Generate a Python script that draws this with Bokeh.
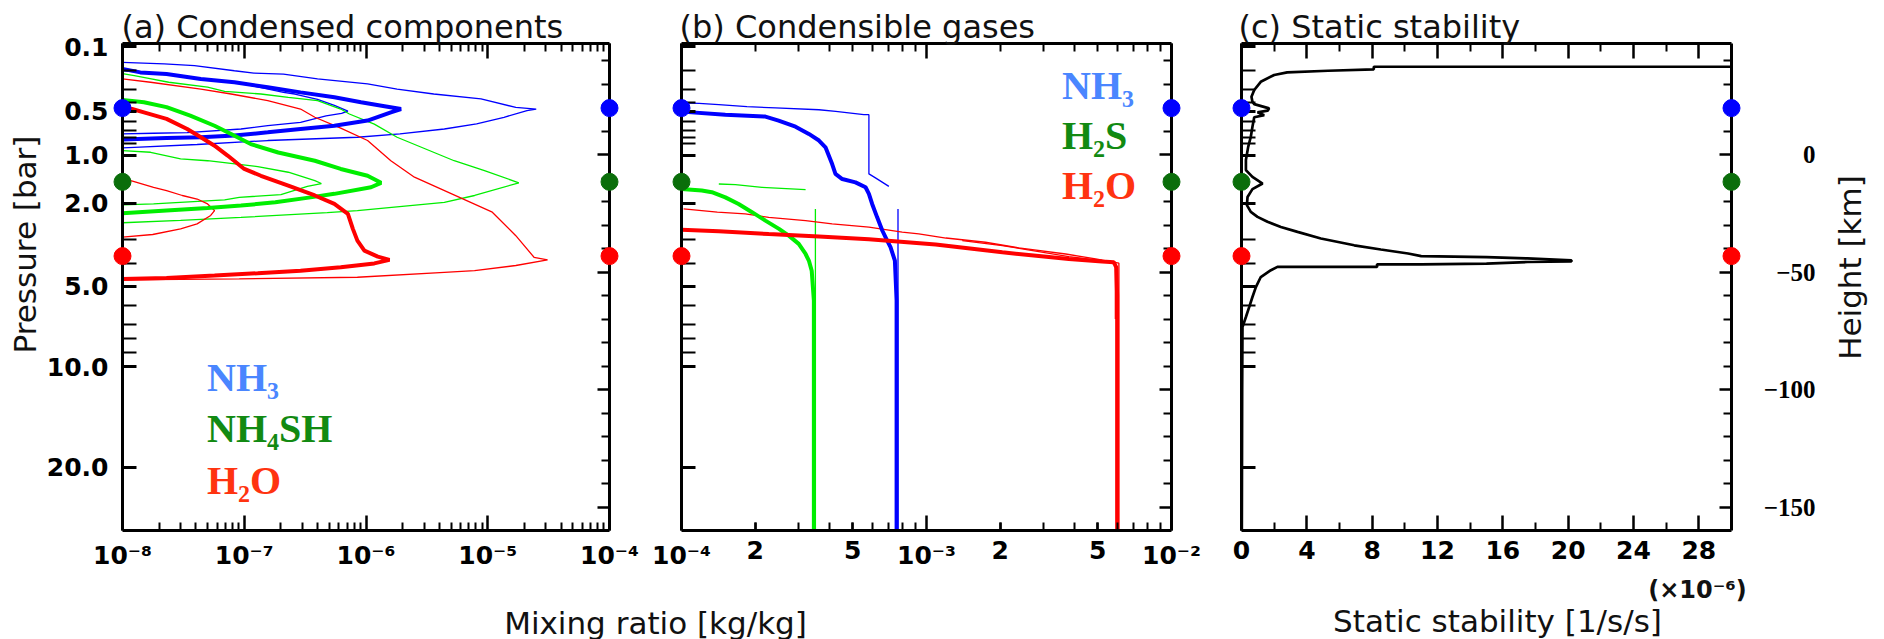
import numpy as np
from bokeh.plotting import figure
from bokeh.models import (Range1d, LogScale, LinearScale, LinearAxis, LogAxis,
                          FixedTicker, Label, LabelSet, Legend, LegendItem, ColumnDataSource)
from bokeh.embed import file_html
from bokeh.resources import INLINE

nan = float("nan")

# ------------------------------------------------------------------ data
# vertical coordinate: height [km]; pressure ticks placed at their heights
pressure_ticks = [0.1, 0.2, 0.3, 0.4, 0.5, 0.6, 0.7, 0.8, 0.9, 1.0,
                  2.0, 3.0, 4.0, 5.0, 6.0, 7.0, 8.0, 9.0, 10.0, 20.0]
pressure_tick_heights = [46.0, 35.6, 27.8, 22.3, 18.5, 14.3, 10.1, 7.5, 4.9, -0.3,
                         -20.8, -36.1, -46.4, -56.1, -64.4, -72.2, -78.1, -84.3, -90.2, -133.0]
pressure_labelled = [0.1, 0.5, 1.0, 2.0, 5.0, 10.0, 20.0]
pressure_labels = ["0.1", "0.5", "1.0", "2.0", "5.0", "10.0", "20.0"]

height_major = [0, -50, -100, -150]
height_major_labels = ["0", "\u221250", "\u2212100", "\u2212150"]
height_minor = [40, 30, 20, 10, -10, -20, -30, -40, -60, -70, -80, -90,
                -110, -120, -130, -140]

# cloud-base levels (dots): NH3, NH4SH, H2O
cloud_base_h = [19.8, -11.6, -43.2]
cloud_base_colors = ["#0000ff", "#0a6e0a", "#ff0000"]

# (a) condensed components [kg/kg]
nh3_mean_x = [1e-8, 1.4e-8, 2.3e-8, 4.4e-8, 8.3e-8, 1.56e-7, 2.9e-7, 5.5e-7, 9.1e-7, 1.42e-6,
              1.94e-6, 1.6e-6, 1.03e-6, 5.5e-7, 2.9e-7, 1.56e-7, 8.3e-8, 4.4e-8, 2.3e-8, 1e-8]
nh3_mean_h = [36.5, 35.0, 34.3, 32.2, 30.8, 28.7, 26.5, 24.4, 22.3, 20.6,
              19.4, 18.0, 14.5, 12.3, 10.9, 9.5, 8.1, 7.4, 7.1, 6.4]
nh3_max_x = [1e-8, 2.2e-8, 3.9e-8, 8.3e-8, 1.2e-7, 2.1e-7, 4.0e-7, 1.03e-6, 1.8e-6, 3.6e-6,
             8.8e-6, 1.7e-5, 2.5e-5, 2.1e-5, 1.36e-5, 8.1e-6, 4.4e-6, 1.9e-6, 8.5e-7, 1.56e-7,
             4.1e-8, 1.25e-8, 1e-8]
nh3_max_h = [39.3, 38.6, 37.9, 35.7, 34.7, 34.3, 32.2, 30.1, 27.9, 25.8,
             23.7, 20.1, 19.4, 18.7, 15.9, 13.1, 10.9, 8.8, 7.4, 6.0,
             4.3, 3.1, 2.9]
nh3_min_x = [1e-8, 3e-8, 1e-7, 2.1e-7, 2.6e-7, 4.0e-7, 5.5e-7, 7.1e-7, 6.3e-7, 4.7e-7,
             2.9e-7, 1.56e-7, 9.4e-8, 3.4e-8, 1.8e-8, 1e-8]
nh3_min_h = [35.8, 33.5, 30.0, 26.5, 25.8, 23.5, 21.0, 18.5, 17.6, 16.5,
             13.7, 12.3, 10.9, 9.4, 9.1, 8.8]

nh4sh_mean_x = [1e-8, 1.5e-8, 2.3e-8, 3.6e-8, 5.7e-8, 7.8e-8, 1.13e-7, 1.9e-7, 3.8e-7, 6.2e-7,
                1.03e-6, 1.33e-6, 1.1e-6, 5.5e-7, 3.5e-7, 1.8e-7, 9.4e-8, 5.0e-8, 2.3e-8, 1e-8]
nh4sh_mean_h = [23.3, 22.3, 20.2, 16.6, 12.3, 8.8, 4.5, 0.9, -2.6, -6.1,
                -9.0, -12.0, -13.9, -16.7, -18.2, -20.3, -21.7, -22.7, -23.8, -25.0]
nh4sh_max_x = [1e-8, 1.25e-8, 1.6e-8, 2.4e-8, 5.0e-8, 6.9e-8, 1.37e-7, 2.3e-7, 4.0e-7, 6.2e-7,
               7.3e-7, 1.17e-6, 1.8e-6, 5.3e-6, 9.4e-6, 1.8e-5, 7.8e-6, 4.4e-6, 8.5e-7, 4.8e-7,
               9.4e-8, 3e-8, 1e-8]
nh4sh_max_h = [34.5, 33.6, 32.6, 30.8, 28.7, 26.9, 25.8, 24.4, 23.0, 19.4,
               17.3, 13.0, 7.4, -2.6, -6.8, -12.0, -17.4, -20.3, -23.8, -24.7,
               -26.7, -28.0, -29.0]
nh4sh_min_x = [1e-8, 1.7e-8, 3.0e-8, 5.0e-8, 1.29e-7, 2.3e-7, 3.8e-7, 4.3e-7, 3.3e-7, 2.0e-7,
               9.1e-8, 6.9e-8, 1.8e-8, 1e-8]
nh4sh_min_h = [1.7, 1.0, -1.8, -2.6, -5.1, -7.5, -11.1, -12.3, -13.5, -17.0,
               -18.2, -19.3, -21.0, -21.4]

h2o_mean_x = [1e-8, 1.2e-8, 1.5e-8, 2.3e-8, 3.4e-8, 4.4e-8, 5.7e-8, 7.3e-8, 1.0e-7, 1.37e-7,
              2.3e-7, 3.8e-7, 5.5e-7, 7.1e-7, 7.8e-7, 8.5e-7, 9.7e-7, 1.25e-6, 1.56e-6, 1.17e-6,
              6.2e-7, 2.9e-7, 1.29e-7, 5.7e-8, 2.3e-8, 1e-8]
h2o_mean_h = [20.0, 19.4, 18.0, 15.2, 10.9, 7.4, 3.8, -0.4, -6.1, -9.0,
              -13.2, -17.4, -21.0, -25.2, -31.6, -36.6, -40.9, -43.4, -44.8, -46.3,
              -47.9, -49.4, -50.5, -51.5, -52.5, -52.9]
h2o_max_x = [1e-8, 1.7e-8, 4.4e-8, 7.8e-8, 1.56e-7, 2.9e-7, 3.8e-7, 6.2e-7, 1.03e-6, 1.6e-6,
             2.5e-6, 4.1e-6, 1.09e-5, 1.7e-5, 2.4e-5, 3.1e-5, 1.7e-5, 7.8e-6, 4.4e-6, 8.5e-7,
             9.1e-8, 1e-8]
h2o_max_h = [32.2, 30.8, 27.9, 25.8, 23.0, 19.4, 15.9, 11.3, 6.0, -2.6,
             -9.6, -14.6, -24.5, -34.5, -43.7, -44.8, -47.2, -49.4, -50.1, -52.2,
             -52.9, -53.3]
h2o_min_x = [1e-8, 1.17e-8, 1.8e-8, 2.3e-8, 3.1e-8, 4.1e-8, 5.0e-8, 5.7e-8, 5.3e-8, 4.1e-8,
             3.0e-8, 1.77e-8, 1e-8]
h2o_min_h = [-10.0, -11.1, -13.9, -15.3, -17.4, -18.9, -21.0, -23.8, -25.9, -29.5,
             -31.6, -34.0, -35.1]

# (b) condensible gases [kg/kg]
nh3_gas_mean_x = [1e-4, 1.51e-4, 2.2e-4, 2.49e-4, 2.92e-4, 3.31e-4, 3.64e-4, 3.87e-4, 4.12e-4,
                  4.25e-4, 4.53e-4, 5.13e-4, 5.64e-4, 5.82e-4, 6.0e-4, 6.29e-4, 6.6e-4, 6.91e-4,
                  7.13e-4, 7.43e-4, 7.55e-4, 7.55e-4]
nh3_gas_mean_h = [18.3, 17.0, 16.2, 14.5, 11.9, 8.8, 6.0, 3.1, -4.0,
                  -8.2, -10.4, -11.8, -13.9, -16.7, -21.0, -26.7, -32.3, -36.6,
                  -39.4, -45.1, -62.1, -160.0]
nh3_gas_max_x = [1e-4, 1.18e-4, 1.42e-4, 1.85e-4, 2.42e-4, 3.64e-4, 4.26e-4, 5.55e-4, 5.82e-4,
                 5.82e-4, 6.19e-4, 7.02e-4, nan, 7.65e-4, 7.65e-4]
nh3_gas_max_h = [22.0, 21.8, 21.3, 20.4, 19.9, 19.1, 18.4, 17.0, 17.0,
                 -8.2, -9.9, -13.5, nan, -23.1, -160.0]
h2s_gas_mean_x = [1e-4, 1.21e-4, 1.33e-4, 1.51e-4, 1.71e-4, 1.94e-4, 2.2e-4, 2.5e-4, 2.74e-4,
                  3.01e-4, 3.21e-4, 3.31e-4, 3.40e-4, 3.47e-4, 3.47e-4]
h2s_gas_mean_h = [-14.6, -15.3, -16.0, -18.2, -21.0, -24.5, -28.1, -31.6, -34.5,
                  -38.0, -42.3, -45.1, -49.4, -62.1, -160.0]
h2s_gas_max_x = [1.42e-4, 1.66e-4, 2.13e-4, 3.21e-4, nan, 3.52e-4, 3.52e-4]
h2s_gas_max_h = [-12.5, -12.8, -13.9, -14.9, nan, -23.1, -160.0]
h2o_gas_mean_x = [1e-4, 1.42e-4, 2.27e-4, 3.64e-4, 5.82e-4, 1.09e-3, 2.04e-3, 3.81e-3, 5.21e-3,
                  5.82e-3, 5.95e-3, 6.0e-3, 6.0e-3]
h2o_gas_mean_h = [-32.0, -32.6, -33.8, -34.9, -36.0, -38.3, -41.6, -44.4, -45.5,
                  -45.8, -48.0, -60.0, -160.0]
h2o_gas_max_x = [1.02e-4, 1.4e-4, 1.82e-4, 2.27e-4, 3.21e-4, 4.12e-4, 5.82e-4, 7.96e-4, 9.3e-4,
                 1.2e-3, 1.74e-3, 2.38e-3, 3.7e-3, 4.9e-3, 6.1e-3, 6.1e-3]
h2o_gas_max_h = [-23.1, -24.5, -25.2, -26.7, -28.1, -29.5, -30.9, -33.0, -33.7,
                 -35.5, -37.3, -39.7, -42.3, -44.4, -46.2, -160.0]
h2o_gas_thin2_x = [1.4e-3, 2.04e-3, 2.79e-3, 3.81e-3, 5.5e-3, 5.9e-3, 5.9e-3]
h2o_gas_thin2_h = [-36.6, -38.7, -41.1, -43.4, -45.4, -47.0, -70.0]

# (c) static stability [1e-6 1/s/s]
stability = [30.0, 8.1, 8.1, 5.3, 2.8, 2.0, 1.18, 0.78, 0.61, 0.67, 0.78, 1.69, 1.6, 0.98, 1.39,
             0.78, 0.67, 0.57, 0.41, 0.27, 0.27, 0.67, 1.29, 0.67, 0.37, 0.33, 0.57, 0.98, 1.59,
             2.41, 3.43, 4.86, 6.9, 8.53, 10.2, 11.0, 15.0, 17.5, 20.2, 20.2, 17.5, 15.0, 11.0,
             8.3, 8.3, 2.2, 1.8, 1.18, 0.88, 0.67, 0.47, 0.27, 0.06, 0.04, 0.02]
stability_h = [37.4, 37.4, 36.3, 35.7, 35.0, 33.9, 31.0, 27.5, 24.6, 22.5, 21.5, 19.7, 18.7, 18.0,
               16.8, 15.9, 11.9, 7.6, 3.3, -2.3, -6.6, -9.5, -12.3, -14.7, -18.0, -21.5, -24.4,
               -26.5, -28.6, -30.8, -32.9, -35.7, -38.6, -40.4, -42.1, -43.2, -43.6, -44.2, -45.0,
               -45.5, -45.7, -46.4, -46.7, -46.7, -47.8, -47.8, -49.2, -52.1, -56.4, -60.6, -64.9,
               -69.1, -73.4, -100.0, -160.0]

# axis tick values
a_major = [1e-8, 1e-7, 1e-6, 1e-5, 1e-4]
a_major_labels = ["10\u207b\u2078", "10\u207b\u2077", "10\u207b\u2076", "10\u207b\u2075", "10\u207b\u2074"]
b_decades = [1e-4, 1e-3, 1e-2]
b_decade_labels = ["10\u207b\u2074", "10\u207b\u00b3", "10\u207b\u00b2"]
b_mid = [2e-4, 5e-4, 2e-3, 5e-3]
b_mid_labels = ["2", "5", "2", "5"]
c_major = [0, 4, 8, 12, 16, 20, 24, 28]
c_minor = [2, 6, 10, 14, 18, 22, 26]

# ------------------------------------------------------------------ layout
# The frame covers the whole canvas; each panel box is drawn by its own axes.
W, H = 1884, 639
PANEL_PX = {"default": (122, 609), "b": (681, 1171), "c": (1241, 1731)}
PANEL_LIM = {"default": (1e-8, 1e-4), "b": (1e-4, 1e-2), "c": (0.0, 30.0)}
PANEL_Y_PX = (43, 530)          # top, bottom of the boxes
Y_LIM = (-160.0, 47.3)
BASE_FIX = 9                    # alphabetic-baseline correction of Label text


def make_range(px0, px1, v0, v1, total, log=False):
    if log:
        v0, v1 = np.log10(v0), np.log10(v1)
    per = (v1 - v0) / (px1 - px0)
    s = v0 - px0 * per
    e = v0 + (total - px0) * per
    if log:
        s, e = 10 ** s, 10 ** e
    return float(s), float(e)


def x_range(name, log):
    return Range1d(*make_range(*PANEL_PX[name], *PANEL_LIM[name], W, log=log))


ys, ye = make_range(PANEL_Y_PX[0], PANEL_Y_PX[1], Y_LIM[1], Y_LIM[0], H)
y_rng = Range1d(ye, ys)

p = figure(width=W, height=H, x_axis_type="log", x_range=x_range("default", True),
           y_range=y_rng, x_axis_location=None, y_axis_location=None,
           toolbar_location=None, output_backend="svg",
           min_border_left=0, min_border_right=0, min_border_top=0, min_border_bottom=0)
p.extra_x_ranges = {"b": x_range("b", True), "c": x_range("c", False)}
p.extra_x_scales = {"b": LogScale(), "c": LinearScale()}
p.outline_line_color = None
p.grid.visible = False
p.background_fill_color = "white"
p.border_fill_color = "white"


def minors_log(decades):
    out = []
    for d in decades:
        out += [k * d for k in range(2, 10)]
    return out


def add_axis(cls, side, rng, ticks, minor, fixed, labels=None, bounds=None,
             major_in=15, minor_in=8, major_w=2.5, minor_w=2.0, size="25px", standoff=10):
    ax = cls(ticker=FixedTicker(ticks=[float(t) for t in ticks],
                                minor_ticks=[float(t) for t in minor]),
             fixed_location=fixed, x_range_name=rng)
    if bounds is not None:
        ax.bounds = bounds
    ax.axis_line_width = 3
    ax.axis_line_color = "black"
    ax.major_tick_in, ax.major_tick_out = major_in, 0
    ax.minor_tick_in, ax.minor_tick_out = minor_in, 0
    ax.major_tick_line_width, ax.minor_tick_line_width = major_w, minor_w
    ax.major_tick_line_color = ax.minor_tick_line_color = "black"
    if labels is None:
        ax.major_label_overrides = {float(t): "" for t in ticks}
        ax.major_label_text_font_size = "0px"
    else:
        ax.major_label_overrides = {float(t): l for t, l in zip(ticks, labels)}
        ax.major_label_text_font = "DejaVu Sans"
        ax.major_label_text_font_style = "bold"
        ax.major_label_text_font_size = size
        ax.major_label_text_color = "black"
        ax.major_label_standoff = standoff
    p.add_layout(ax, side)
    return ax


p_minor = [h for pt, h in zip(pressure_ticks, pressure_tick_heights) if pt not in pressure_labelled]
p_major = [h for pt, h in zip(pressure_ticks, pressure_tick_heights) if pt in pressure_labelled]

for name in ["default", "b", "c"]:
    lo, hi = PANEL_LIM[name]
    add_axis(LinearAxis, "left", name, p_major, p_minor, lo, bounds=Y_LIM,
             labels=pressure_labels if name == "default" else None,
             major_in=14, minor_in=14, major_w=3, minor_w=2, size="25px", standoff=14)
    add_axis(LinearAxis, "right", name, height_major, height_minor, hi, bounds=Y_LIM,
             major_in=12, minor_in=8)

# height labels of the right axis (right-aligned, as in the original)
p.add_layout(LabelSet(x="x", y="y", text="t", x_units="screen",
                      source=ColumnDataSource(dict(x=[1815] * len(height_major), y=height_major,
                                                   t=height_major_labels)),
                      text_font="DejaVu Sans", text_font_style="bold", text_font_size="25px",
                      text_align="right", text_baseline="middle", text_color="black"))

add_axis(LogAxis, "above", "default", a_major, minors_log(a_major[:-1]), Y_LIM[1], bounds=PANEL_LIM["default"])
add_axis(LogAxis, "below", "default", a_major, minors_log(a_major[:-1]), Y_LIM[0], labels=a_major_labels,
         bounds=PANEL_LIM["default"])
add_axis(LogAxis, "above", "b", b_decades, minors_log(b_decades[:-1]), Y_LIM[1], bounds=PANEL_LIM["b"])
add_axis(LogAxis, "below", "b", b_decades, minors_log(b_decades[:-1]), Y_LIM[0], labels=b_decade_labels,
         bounds=PANEL_LIM["b"])
ax_mid = add_axis(LogAxis, "below", "b", b_mid, [], Y_LIM[0], labels=b_mid_labels,
                  bounds=PANEL_LIM["b"], major_in=8)
ax_mid.axis_line_color = None
add_axis(LinearAxis, "above", "c", c_major, c_minor, Y_LIM[1], bounds=PANEL_LIM["c"])
add_axis(LinearAxis, "below", "c", c_major, c_minor, Y_LIM[0], labels=[str(v) for v in c_major],
         bounds=PANEL_LIM["c"])

# ------------------------------------------------------------------ curves
BLUE, GREEN, RED = "#0000ff", "#00ee00", "#ff0000"
THICK, THIN = 4, 1.3

for xs, hs, col in [(nh3_max_x, nh3_max_h, BLUE), (nh3_min_x, nh3_min_h, BLUE),
                    (nh4sh_max_x, nh4sh_max_h, GREEN), (nh4sh_min_x, nh4sh_min_h, GREEN),
                    (h2o_max_x, h2o_max_h, RED), (h2o_min_x, h2o_min_h, RED)]:
    p.line(xs, hs, line_color=col, line_width=THIN)
for xs, hs, col in [(nh3_mean_x, nh3_mean_h, BLUE), (nh4sh_mean_x, nh4sh_mean_h, GREEN),
                    (h2o_mean_x, h2o_mean_h, RED)]:
    p.line(xs, hs, line_color=col, line_width=THICK)

for xs, hs, col in [(nh3_gas_max_x, nh3_gas_max_h, BLUE), (h2s_gas_max_x, h2s_gas_max_h, GREEN),
                    (h2o_gas_max_x, h2o_gas_max_h, RED), (h2o_gas_thin2_x, h2o_gas_thin2_h, RED)]:
    p.line(xs, hs, line_color=col, line_width=THIN, x_range_name="b")
for xs, hs, col in [(nh3_gas_mean_x, nh3_gas_mean_h, BLUE), (h2s_gas_mean_x, h2s_gas_mean_h, GREEN),
                    (h2o_gas_mean_x, h2o_gas_mean_h, RED)]:
    p.line(xs, hs, line_color=col, line_width=THICK, x_range_name="b")

p.line(stability, stability_h, line_color="black", line_width=2.7, x_range_name="c")

for name in ["default", "b", "c"]:
    lo, hi = PANEL_LIM[name]
    p.scatter([lo] * 3 + [hi] * 3, cloud_base_h * 2, color=cloud_base_colors * 2,
              size=17, x_range_name=name, level="overlay")


# ------------------------------------------------------------------ legends
def add_legend(text, line_col, text_col, loc):
    r = p.line(x=[], y=[], line_color=line_col, line_width=4)
    leg = Legend(items=[LegendItem(label=text, renderers=[r])], location=loc,
                 border_line_color=None, background_fill_alpha=0, padding=0, margin=0,
                 spacing=0, glyph_width=38, glyph_height=44, label_height=44,
                 label_standoff=13, label_text_font="Liberation Serif",
                 label_text_font_style="bold", label_text_font_size="40px",
                 label_text_color=text_col)
    p.add_layout(leg)


L_BLUE, L_GREEN, L_RED = "#4a86ff", "#128a12", "#ff3310"
add_legend("NH\u2083", L_BLUE, L_BLUE, (156, H - 401))
add_legend("NH\u2084SH", L_GREEN, L_GREEN, (156, H - 452))
add_legend("H\u2082O", "#ff1a1a", L_RED, (156, H - 504))
add_legend("NH\u2083", L_BLUE, L_BLUE, (1011, H - 109))
add_legend("H\u2082S", L_GREEN, L_GREEN, (1011, H - 159))
add_legend("H\u2082O", "#ff1a1a", L_RED, (1011, H - 209))


# ------------------------------------------------------------------ texts
def add_text(text, cx, cy, size="32px", align="left", baseline="alphabetic", angle=0.0,
             style="normal"):
    if baseline == "alphabetic":
        cy = cy - BASE_FIX
    p.add_layout(Label(x=cx, y=H - cy, x_units="screen", y_units="screen",
                       text=text, text_font="DejaVu Sans", text_font_size=size,
                       text_align=align, text_baseline=baseline, angle=angle,
                       text_font_style=style, text_color="#111111"))


add_text("(a) Condensed components", 121, 35)
add_text("(b) Condensible gases", 679, 35)
add_text("(c) Static stability", 1238, 35)
add_text("Mixing ratio [kg/kg]", 655, 631, size="31px", align="center")
add_text("Static stability [1/s/s]", 1497, 629, size="31px", align="center")
add_text("(\u00d710\u207b\u2076)", 1697, 598, size="24px", align="center", style="bold")
add_text("Pressure [bar]", 24, 244, size="31px", align="center", baseline="middle", angle=np.pi / 2)
add_text("Height [km]", 1849, 267, size="31px", align="center", baseline="middle", angle=np.pi / 2)

open("out.html", "w").write(file_html(p, INLINE))
